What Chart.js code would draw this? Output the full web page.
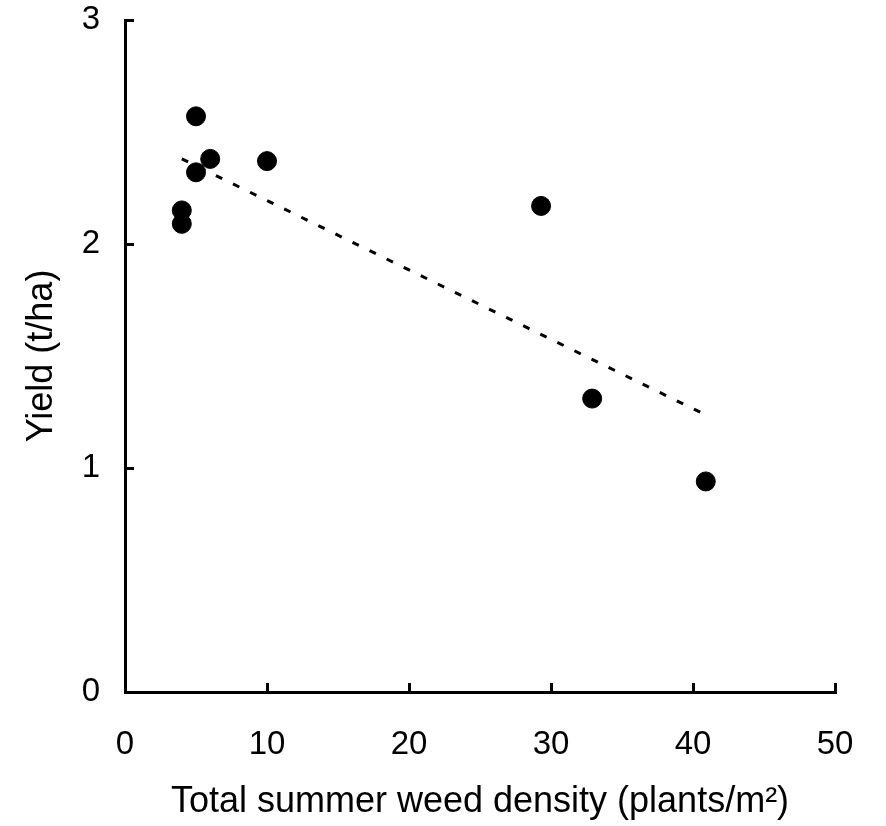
<!DOCTYPE html>
<html>
<head>
<meta charset="utf-8">
<script src="https://cdn.jsdelivr.net/npm/chart.js@4.4.1/dist/chart.umd.min.js"></script>
<style>
  html, body { margin: 0; padding: 0; background: #fff; }
  #wrap { width: 886px; height: 826px; }
</style>
</head>
<body>
<div id="wrap"><canvas id="weedChart" width="886" height="826"></canvas></div>
<script>
// Observed plots: weed density vs yield
const densityValues = [4, 4, 5, 5, 6, 10, 29.3, 32.9, 40.9];
const yieldValues = [2.15, 2.09, 2.57, 2.32, 2.38, 2.37, 2.17, 1.31, 0.94];

// Fitted trend line end points
const trendX = [4, 40.8];
const trendY = [2.38, 1.24];

const xTicks = [0, 10, 20, 30, 40, 50];
const yTicks = [0, 1, 2, 3];

const xTitle = 'Total summer weed density (plants/m²)';
const yTitle = 'Yield (t/ha)';

const FONT = "'Liberation Sans', Arial, sans-serif";

document.addEventListener('DOMContentLoaded', () => {
    const ctx = document.getElementById('weedChart').getContext('2d');

    const points = densityValues.map((x, i) => ({ x: x, y: yieldValues[i] }));
    const trend = trendX.map((x, i) => ({ x: x, y: trendY[i] }));

    new Chart(ctx, {
        type: 'scatter',
        data: {
            datasets: [
                {
                    label: 'Trend',
                    type: 'line',
                    data: trend,
                    borderColor: '#000',
                    borderWidth: 3,
                    borderDash: [7, 12],
                    borderCapStyle: 'butt',
                    pointRadius: 0,
                    fill: false
                },
                {
                    label: 'Yield',
                    data: points,
                    backgroundColor: '#000',
                    borderColor: '#000',
                    pointRadius: 9.5,
                    pointHoverRadius: 9.5
                }
            ]
        },
        options: {
            responsive: false,
            animation: false,
            layout: { padding: { top: 20, right: 51, left: 0, bottom: 0 } },
            plugins: {
                legend: { display: false },
                tooltip: { enabled: false }
            },
            scales: {
                x: {
                    type: 'linear',
                    min: 0,
                    max: 50,
                    afterBuildTicks: (scale) => { scale.ticks = xTicks.map(v => ({ value: v })); },
                    afterFit: (scale) => {
                        scale.height = 134;
                        scale.paddingLeft = 0;
                        scale.paddingRight = 0;
                    },
                    border: { display: true, color: '#000', width: 3 },
                    grid: {
                        drawOnChartArea: false,
                        drawTicks: true,
                        tickLength: -9,
                        tickWidth: 3,
                        color: '#000'
                    },
                    ticks: {
                        color: '#000',
                        padding: 42,
                        maxRotation: 0,
                        font: { family: FONT, size: 33 }
                    },
                    title: {
                        display: true,
                        text: xTitle,
                        color: '#000',
                        padding: { top: 0, bottom: 2 },
                        font: { family: FONT, size: 36 }
                    }
                },
                y: {
                    type: 'linear',
                    min: 0,
                    max: 3,
                    afterBuildTicks: (scale) => { scale.ticks = yTicks.map(v => ({ value: v })); },
                    afterFit: (scale) => {
                        scale.width = 125;
                        scale.paddingTop = 0;
                        scale.paddingBottom = 0;
                    },
                    border: { display: true, color: '#000', width: 3 },
                    grid: {
                        drawOnChartArea: false,
                        drawTicks: true,
                        tickLength: -9,
                        tickWidth: 3,
                        color: '#000'
                    },
                    ticks: {
                        color: '#000',
                        padding: 34,
                        font: { family: FONT, size: 33 }
                    },
                    title: {
                        display: true,
                        text: yTitle,
                        color: '#000',
                        padding: { top: 20, bottom: 0 },
                        font: { family: FONT, size: 36 }
                    }
                }
            }
        }
    });
});
</script>
</body>
</html>
